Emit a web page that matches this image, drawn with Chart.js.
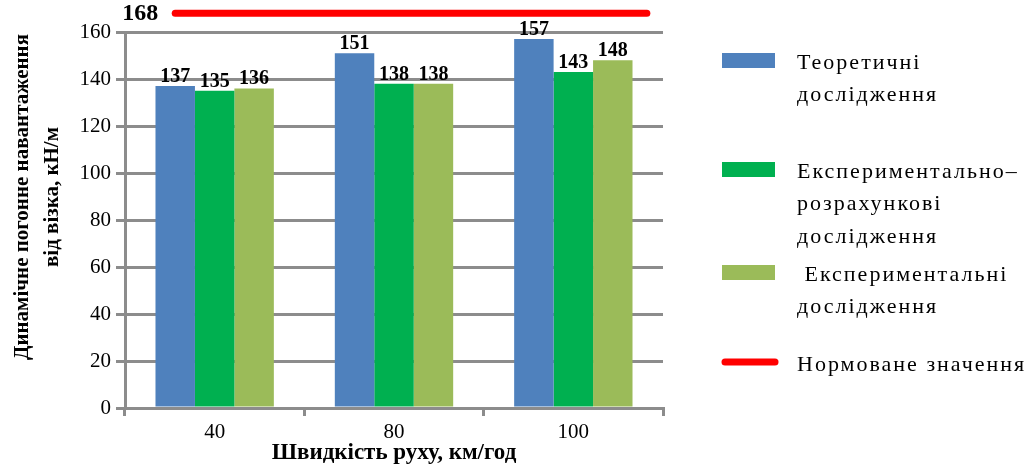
<!DOCTYPE html>
<html lang="uk">
<head>
<meta charset="utf-8">
<title>Динамічне погонне навантаження</title>
<script src="https://cdn.jsdelivr.net/npm/chart.js@4.4.1/dist/chart.umd.min.js"></script>
<style>
  html, body { margin: 0; padding: 0; background: #fff; }
</style>
</head>
<body>
<canvas id="loadChart" width="1030" height="470"></canvas>
<script>
// швидкості руху, км/год
const speeds = ['40', '80', '100'];
// навантаження, кН/м
const theoretical = [137, 151, 157];
const calculated = [135, 138, 143];
const experimental = [136, 138, 148];
// нормоване значення і ділянка (в індексах категорій), на якій його показано
const normValue = 168;
const normSpan = [-0.22, 2.41];
const yTicks = [0, 20, 40, 60, 80, 100, 120, 140, 160];

const SERIF = '"Liberation Serif", "Times New Roman", serif';
const GRID = '#8c8c8c';

Chart.defaults.font.family = SERIF;
Chart.defaults.color = '#000';

// стовпчики і лінія норми лежать на одній числовій осі індексів
const byIndex = values => values.map((v, i) => ({ x: i, y: v }));

// підписи значень над стовпчиками і біля лінії норми
const valueLabels = {
  id: 'valueLabels',
  afterDatasetsDraw(chart) {
    const ctx = chart.ctx;
    ctx.save();
    ctx.fillStyle = '#000';
    chart.data.datasets.forEach((ds, i) => {
      const meta = chart.getDatasetMeta(i);
      if (meta.type === 'bar') {
        ctx.font = 'bold 20px ' + SERIF;
        ctx.textAlign = 'center';
        ctx.textBaseline = 'alphabetic';
        meta.data.forEach((bar, j) => ctx.fillText(ds.data[j].y, bar.x, bar.y - 4));
      } else {
        const p = meta.data[0];
        ctx.font = 'bold 24px ' + SERIF;
        ctx.textAlign = 'right';
        ctx.textBaseline = 'middle';
        ctx.fillText(ds.data[0].y, p.x - 17, p.y + 1);
      }
    });
    ctx.restore();
  }
};

// легенда праворуч і дворядкова назва осі Y
const sideText = {
  id: 'sideText',
  afterDraw(chart) {
    const ctx = chart.ctx;
    ctx.save();

    // назва осі Y
    ctx.font = 'bold 21px ' + SERIF;
    ctx.fillStyle = '#000';
    ctx.textAlign = 'center';
    ctx.textBaseline = 'middle';
    ctx.translate(0, 197);
    ctx.rotate(-Math.PI / 2);
    ctx.fillText('Динамічне погонне навантаження', 0, 23);
    ctx.fillText('від візка, кН/м', 0, 53);
    ctx.setTransform(1, 0, 0, 1, 0, 0);

    // легенда
    const rows = [63, 172, 275, 365];
    ctx.font = '22px ' + SERIF;
    ctx.letterSpacing = '2px';
    ctx.textAlign = 'left';
    chart.data.datasets.forEach((ds, i) => {
      const y = rows[i];
      if (ds.type === 'line') {
        ctx.strokeStyle = ds.borderColor;
        ctx.lineWidth = 7;
        ctx.lineCap = 'round';
        ctx.beginPath();
        ctx.moveTo(725, y - 3);
        ctx.lineTo(775, y - 3);
        ctx.stroke();
      } else {
        ctx.fillStyle = ds.backgroundColor;
        ctx.fillRect(722, y - 10, 53, 15);
      }
      ctx.fillStyle = '#000';
      ds.label.split('\n').forEach((line, k) => ctx.fillText(line, 797, y + k * 32.5));
    });
    ctx.restore();
  }
};

new Chart(document.getElementById('loadChart'), {
  type: 'bar',
  data: {
    datasets: [
      {
        label: 'Теоретичні\nдослідження',
        data: byIndex(theoretical),
        backgroundColor: '#4f81bd'
      },
      {
        label: 'Експериментально–\nрозрахункові\nдослідження',
        data: byIndex(calculated),
        backgroundColor: '#00b050'
      },
      {
        label: ' Експериментальні\nдослідження',
        data: byIndex(experimental),
        backgroundColor: '#9bbb59'
      },
      {
        type: 'line',
        label: 'Нормоване значення',
        data: normSpan.map(x => ({ x: x, y: normValue })),
        borderColor: '#ff0000',
        borderWidth: 7,
        borderCapStyle: 'round',
        pointRadius: 0,
        clip: false
      }
    ]
  },
  options: {
    responsive: false,
    animation: false,
    layout: { padding: { left: 0, top: 32, right: 367, bottom: 0 } },
    datasets: {
      bar: { categoryPercentage: 0.66, barPercentage: 1 }
    },
    scales: {
      // прихована вісь індексів, спільна для стовпчиків і лінії
      x: {
        type: 'linear',
        display: false,
        offset: false,
        grid: { offset: false },
        min: -0.5,
        max: speeds.length - 0.5,
        afterBuildTicks(scale) {
          scale.ticks = speeds.map((_, i) => ({ value: i }));
        }
      },
      // видима вісь зі швидкостями
      speed: {
        type: 'category',
        labels: speeds,
        position: 'bottom',
        offset: true,
        grid: { drawOnChartArea: false, offset: true, tickLength: 8, color: GRID, lineWidth: 3 },
        border: { color: GRID, width: 3 },
        ticks: { font: { size: 21 }, color: '#000', padding: 4 },
        title: {
          display: true,
          text: 'Швидкість руху, км/год',
          font: { size: 23, weight: 'bold', lineHeight: 1.2 },
          color: '#000',
          padding: { top: 0, bottom: 3 }
        },
        afterFit(scale) { scale.height = 62; }
      },
      y: {
        min: yTicks[0],
        max: yTicks[yTicks.length - 1],
        ticks: { stepSize: yTicks[1] - yTicks[0], font: { size: 21 }, color: '#000', padding: 5 },
        grid: { color: GRID, lineWidth: 3, tickLength: 9 },
        border: { color: GRID, width: 3 },
        afterFit(scale) { scale.width = 125; }
      }
    },
    plugins: {
      legend: { display: false },
      tooltip: { enabled: false }
    }
  },
  plugins: [valueLabels, sideText]
});
</script>
</body>
</html>
